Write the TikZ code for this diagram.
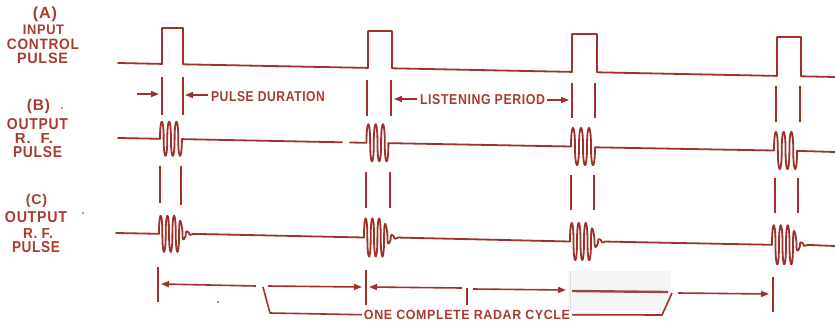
\documentclass[tikz,border=0pt]{standalone}
\usepackage{fontspec}
\setmainfont{Liberation Sans}
\newfontfamily\lab{Liberation Sans}[LetterSpace=5]
\usepackage{graphicx}
\usetikzlibrary{arrows.meta}
\definecolor{ink}{RGB}{158,50,42}
\definecolor{txt}{RGB}{168,60,46}
\newcommand\fitlab[3]{\resizebox{#1pt}{#2pt}{\lab\bfseries #3}}
\newcommand\fitw[2]{\resizebox{#1pt}{!}{\lab\bfseries #2}}
\begin{document}
\begin{tikzpicture}[x=1pt,y=-1pt,
  wave/.style={ink,line width=1.8pt,line join=round,line cap=round},
  mk/.style={ink,line width=1.3pt},
  arr/.style={ink,line width=1.6pt,-{Triangle[length=8pt,width=6pt]}},
  lbl/.style={txt,inner sep=0pt},
  declare function={sq(\t,\p)=sin(360*\t/\p)*(abs(sin(360*\t/\p))+0.002)^(-0.6);
                    env(\t,\k)=min(1,exp(-(\t-\k)/4));}]
\useasboundingbox (0,0) rectangle (835,322);

% ---- labels on the left
\node[lbl] (A1) at (45,14)    {\fitw{24}{(A)}};
\node[lbl] (A2) at (43.5,29.7){\fitlab{41}{9.5}{INPUT}};
\node[lbl] (A3) at (43,44.7)  {\fitlab{72}{10.5}{CONTROL}};
\node[lbl] (A4) at (42.5,58.8){\fitlab{51}{10.5}{PULSE}};
\node[lbl] (B1) at (38.5,106.5){\fitw{23}{(B)}};
\node[lbl] (B2) at (37.5,123.7){\fitlab{61}{11}{OUTPUT}};
\node[lbl] (B3) at (34,138)   {\fitlab{38}{10}{R.\ \ F.}};
\node[lbl] (B4) at (37.5,152.5){\fitlab{49}{11}{PULSE}};
\node[lbl] (C1) at (36.5,201) {\fitw{21}{(C)}};
\node[lbl] (C2) at (36,217.5) {\fitlab{62}{11}{OUTPUT}};
\node[lbl] (C3) at (38,233)   {\fitlab{30}{10}{R.\ F.}};
\node[lbl] (C4) at (36,247.5) {\fitlab{48}{11}{PULSE}};

% ---- row A : input control pulse
\draw[wave] (118,63) -- (162,63.9) -- (162,28) -- (183,28) -- (183,64.3)
  -- (368,67.9) -- (368,31) -- (392,31) -- (392,68.3)
  -- (572,71.9) -- (572,34) -- (597,34) -- (597,72.3)
  -- (777,75.9) -- (777,37) -- (801,37) -- (801,76.3) -- (835,77);

% ---- row B : output RF pulse
\begin{scope}[wave]
\draw (118,138) -- (160,138.8)
  -- plot[domain=0:21.9,samples=300] ({160+\x},{138.8-17*sq(\x,7.3)})
  -- (342,142.3);
\draw (350,142.5) -- (366.5,142.8)
  -- plot[domain=0:21.9,samples=300] ({366.5+\x},{142.8-18.5*sq(\x,7.3)})
  -- (571,146.5)
  -- plot[domain=0:24,samples=300] ({571+\x},{146.5-18.5*sq(\x,8)})
  -- (774,150.5)
  -- plot[domain=0:23.1,samples=300] ({774+\x},{150.5-18.5*sq(\x,7.7)})
  -- (835,152);

% ---- row C : output RF pulse with ringing
\draw (116,233) -- (159,233.8)
  -- plot[domain=0:33.5,samples=400] ({159+\x},{233.8-18*env(\x,20.1)*sq(\x,6.7)})
  -- (364,237.5)
  -- plot[domain=0:33.5,samples=400] ({364+\x},{237.5-19*env(\x,20.1)*sq(\x,6.7)})
  -- (570,241.5)
  -- plot[domain=0:35,samples=400] ({570+\x},{241.5-18.5*env(\x,21)*sq(\x,7)})
  -- (772,244.8)
  -- plot[domain=0:35,samples=400] ({772+\x},{244.8-19.5*env(\x,21)*sq(\x,7)})
  -- (835,246);
\end{scope}

% ---- vertical marker lines
\foreach \xa/\ya/\yb in {162/77/115,183/77/115,367/80/116,391/80/116,
                         572/83/118,595/83/118,776/86/122,800/86/122,
                         160/166/203,181/166/205,366/172/208,390/172/208,
                         571/175/210,594/175/210,775/178/213,798/178/213}
  \draw[mk] (\xa,\ya) -- (\xa,\yb);

% ---- pulse duration
\node[lbl] (pd) at (268,97) {\fitlab{114}{10}{PULSE DURATION}};
\coordinate (pda) at (137,94);  \coordinate (pdb) at (159,94);
\coordinate (pdc) at (208,95);  \coordinate (pdd) at (185,95);
\draw[arr] (pda) -- (pdb);
\draw[arr] (pdc) -- (pdd);

% ---- listening period
\node[lbl] (lp) at (482.5,100) {\fitlab{125}{10}{LISTENING PERIOD}};
\coordinate (lpa) at (417,99);  \coordinate (lpb) at (394,99);
\coordinate (lpc) at (547,100); \coordinate (lpd) at (569,100);
\draw[arr] (lpa) -- (lpb);
\draw[arr] (lpc) -- (lpd);

% ---- bottom: radar cycle
\fill[gray!8] (568,271) rectangle (671,311);
\draw[gray!25,line width=0.6pt] (570,272) -- (570,310);
\draw[line width=2.4pt,ink!70!gray] (572,291) -- (668,292);

\draw[mk] (158,267) -- (158,302);
\draw[mk] (366,270) -- (366,305);
\draw[mk] (467,288) -- (467,305);
\draw[mk] (773,277) -- (773,312);

\coordinate (s1a) at (256,286); \coordinate (s1b) at (161,284);
\coordinate (s2a) at (268,286); \coordinate (s2b) at (362,287);
\coordinate (s3a) at (462,288); \coordinate (s3b) at (369,287);
\coordinate (s4a) at (473,289); \coordinate (s4b) at (566,290);
\coordinate (s5a) at (678,293); \coordinate (s5b) at (769,294);
\draw[arr] (s1a) -- (s1b);
\draw[arr] (s2a) -- (s2b);
\draw[arr] (s3a) -- (s3b);
\draw[arr] (s4a) -- (s4b);
\draw[arr] (s5a) -- (s5b);

\node[lbl] (cy) at (467,314.7) {\fitlab{206}{9.3}{ONE COMPLETE RADAR CYCLE}};
\coordinate (bl1) at (263,287); \coordinate (bl2) at (270,313);
\coordinate (br1) at (672,293); \coordinate (br2) at (662,315);
\draw[ink,line width=1.6pt,line join=round] (bl1) -- (bl2) -- ([xshift=-2pt]cy.west);
\draw[ink,line width=1.6pt,line join=round] ([xshift=2pt]cy.east) -- (br2) -- (br1);

% specks
\fill[ink] (218,302) circle (1pt);
\fill[ink] (83,213) circle (0.9pt);
\fill[ink] (62,108) circle (0.8pt);
\end{tikzpicture}
\end{document}
